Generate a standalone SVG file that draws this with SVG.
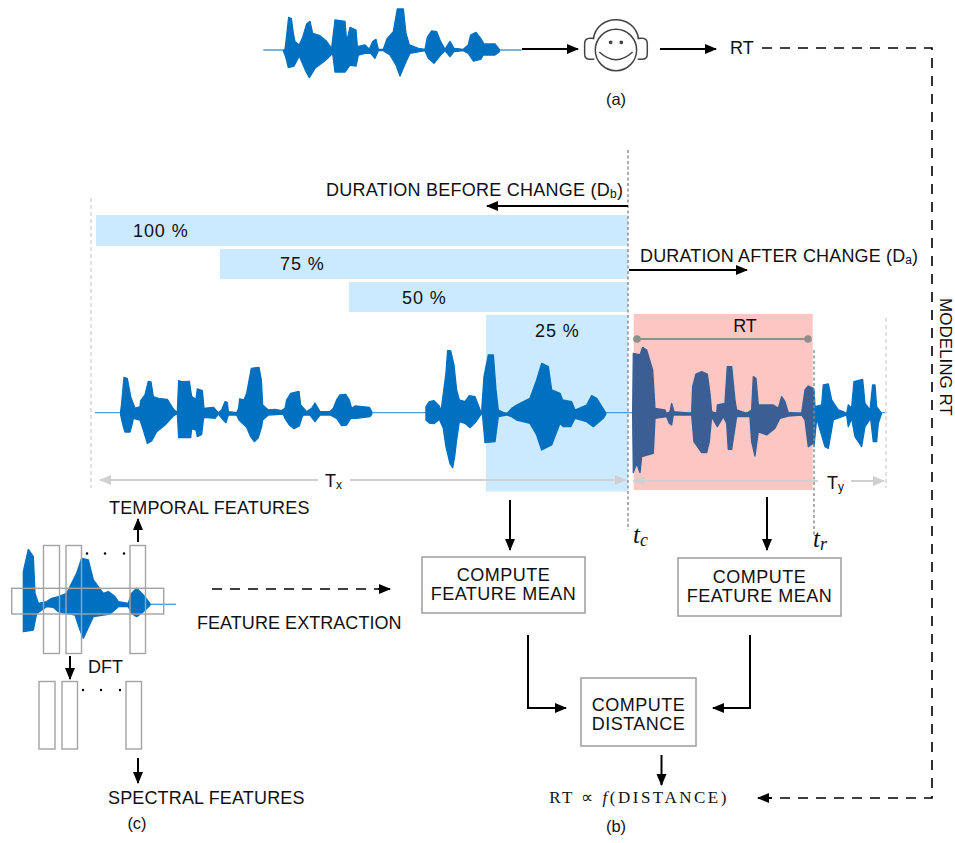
<svg xmlns="http://www.w3.org/2000/svg" width="955" height="843" viewBox="0 0 955 843">
<style>
text{font-family:"Liberation Sans",Arial,sans-serif;font-size:18px;fill:#111}
.m{text-anchor:middle}
.s{font-size:16.500px}
.c{letter-spacing:.5px}
.p{letter-spacing:.9px}
.math{font-family:"Liberation Serif","Times New Roman",serif}
.bar{fill:#cceaff}
.wave{fill:#0070c0;stroke:#0070c0;stroke-width:4;stroke-linejoin:round}
.dark{fill:#3b5f94;stroke:#3b5f94;stroke-width:4;stroke-linejoin:round}
.thin{fill:none;stroke:#4f9bd6;stroke-width:1.200}
.box{fill:#fff;stroke:#a3a3a3;stroke-width:1.600}
.win{fill:none;stroke:#a3a3a3;stroke-width:1.400}
.a{fill:none;stroke:#000;stroke-width:2;marker-end:url(#ah)}
.d{fill:none;stroke:#000;stroke-width:1.600;stroke-dasharray:10 8}
.g{fill:none;stroke:#d0d0d0;stroke-width:2}
.vd{fill:none;stroke:#8a8a8a;stroke-width:1.400;stroke-dasharray:3 2.500}
.vl{fill:none;stroke:#d4d4d4;stroke-width:1.400;stroke-dasharray:4 3}
</style>
<defs>
<marker id="ah" markerUnits="userSpaceOnUse" markerWidth="13" markerHeight="11" refX="11" refY="5" orient="auto"><path d="M0 0L12 5L0 10Z" fill="#000"/></marker>
<marker id="gh" markerUnits="userSpaceOnUse" markerWidth="13" markerHeight="11" refX="11" refY="5" orient="auto"><path d="M0 0L12 5L0 10Z" fill="#d0d0d0"/></marker>
</defs>

<g id="bars">
<rect class="bar" x="96" y="215" width="532" height="31"/>
<rect class="bar" x="220" y="249" width="408" height="30"/>
<rect class="bar" x="349" y="282" width="279" height="30"/>
<rect class="bar" x="486" y="315" width="142" height="176.500"/>
<rect x="633.700" y="314" width="179" height="176" fill="#fcc7c3"/>
<text class="p" x="133" y="237">100 %</text>
<text class="p" x="280" y="270">75 %</text>
<text class="p" x="402" y="304">50 %</text>
<text class="p" x="535" y="337">25 %</text>
</g>

<g id="top-wave" transform="translate(250,0) scale(.3333)">
<path class="thin" d="M40 150H815" style="stroke-width:4"/>
<path class="wave" d="M105 148L108 125L116 52L124 56L130 100L135 125L148 135L158 112L170 72L180 64L188 100L210 107L228 122L245 145L255 60L285 64L290 125L300 82L318 90L322 140L345 135L358 148L368 125L378 118L385 148L400 148L412 115L430 95L442 27L460 27L468 100L478 135L505 145L525 148L532 112L545 93L560 95L572 125L585 148L600 124L612 145L640 148L655 135L662 105L678 97L692 115L702 132L735 132L748 148L748 155L735 165L700 165L692 178L670 183L655 160L640 152L612 155L600 170L585 152L572 165L552 190L535 175L525 152L480 160L468 185L450 228L438 195L420 165L400 152L385 152L375 175L362 160L345 160L325 165L318 198L300 195L285 216L255 216L248 160L225 182L195 205L178 233L165 208L148 168L132 198L115 203L107 170L100 152Z"/>
</g>

<g id="listener" transform="translate(250,0) scale(.3333)" fill="none" stroke="#444" stroke-width="4.500">
<circle cx="1098" cy="150" r="62"/>
<path d="M1030 118C1040 40 1156 40 1166 118"/>
<path d="M1033 115H1020Q1004 115 1004 131V162Q1004 178 1020 178H1033"/>
<path d="M1163 115H1176Q1192 115 1192 131V162Q1192 178 1176 178H1163"/>
<path d="M1048 156Q1098 202 1148 156"/>
<circle cx="1082" cy="127" r="3.500" fill="#444"/>
<circle cx="1114" cy="127" r="3.500" fill="#444"/>
</g>

<g id="main-wave">
<path class="thin" d="M95 412.700H886"/>
<g transform="translate(90,340) scale(.3333)">
<path class="wave" d="M92 215L95 190L102 112L112 116L122 170L135 205L150 200L152 182L165 165L175 124L183 126L190 170L205 175L232 178L250 207L262 218L266 122L275 125L298 124L305 170L318 178L322 147L337 152L342 205L370 202L385 218L395 210L405 185L412 187L415 215L440 218L446 205L449 177L462 180L470 160L484 85L507 82L514 120L518 195L535 210L555 208L575 212L585 205L590 180L602 160L627 154L632 195L650 215L665 205L675 189L690 215L720 215L730 205L740 180L750 165L767 163L778 180L785 205L795 198L838 202L845 215L845 224L840 230L800 235L782 235L770 255L755 257L740 235L720 225L690 225L675 245L660 225L640 225L635 235L628 258L612 266L598 255L585 235L580 222L535 225L518 240L515 260L505 293L493 305L482 290L470 262L447 240L440 225L415 225L408 248L400 240L385 222L375 235L342 232L340 240L335 283L322 290L318 270L305 266L302 293L266 293L262 220L250 228L225 255L200 275L185 303L172 310L160 270L150 240L130 235L127 250L120 276L105 276L100 260L92 225Z"/>
<path class="wave" d="M1008 215L1008 200L1018 185L1032 182L1048 198L1053 215L1068 100L1073 32L1082 32L1092 75L1100 150L1108 180L1125 185L1138 167L1155 170L1165 195L1172 215L1175 220L1172 225L1158 245L1140 263L1125 250L1108 245L1100 300L1094 350L1088 383L1080 370L1068 320L1060 265L1048 238L1032 251L1018 249L1008 240Z"/>
</g>
<g transform="translate(480,310) scale(.3333)">
<path class="wave" d="M5 305L12 200L25 135L40 135L48 240L55 300L80 312L95 295L110 285L150 265L170 210L185 160L205 170L215 240L240 250L248 270L275 275L285 300L320 285L335 257L350 265L375 305L378 312L370 325L340 350L320 335L285 325L272 350L250 350L240 340L215 405L185 420L170 375L150 340L110 330L95 320L80 315L55 320L45 395L15 398L8 320Z"/>
<path class="dark" d="M458 310L460 130L480 135L488 112L500 120L518 180L525 295L555 300L560 312L570 305L575 280L582 305L635 310L638 230L648 192L665 185L682 192L690 250L695 305L710 310L712 285L735 280L742 170L755 170L765 270L770 300L800 310L815 300L820 200L828 205L835 285L880 285L895 295L905 260L915 275L925 308L965 310L975 240L985 228L1000 235L1000 400L985 410L975 330L965 315L925 318L900 325L885 355L860 375L835 365L825 438L815 395L810 320L770 320L755 418L745 418L740 340L730 320L712 350L695 320L688 395L680 428L665 428L642 395L635 315L580 315L575 345L568 340L560 320L525 325L520 430L485 440L480 488L470 460L460 488L458 315Z"/>
<path class="wave" d="M1002 240L1005 290L1025 285L1030 225L1045 222L1055 270L1075 300L1090 305L1100 312L1105 285L1115 295L1122 215L1148 208L1155 280L1170 300L1178 225L1185 225L1190 290L1205 310L1195 340L1190 395L1180 395L1172 325L1155 350L1145 410L1125 380L1115 325L1105 350L1100 315L1060 330L1045 415L1035 410L1010 325L1002 410Z"/>
</g>
</g>

<g id="guides">
<path class="vd" d="M628 150V530"/>
<path class="vd" d="M814 350V535"/>
<path class="vl" d="M91 198V488"/>
<path class="vl" d="M886 318V488"/>
</g>

<g id="rt-span">
<path d="M637 339H808" fill="none" stroke="#8f8f8f" stroke-width="2"/>
<circle cx="637" cy="339" r="3.800" fill="#8f8f8f"/>
<circle cx="808" cy="339" r="3.800" fill="#8f8f8f"/>
<text class="m" x="745" y="332">RT</text>
</g>

<g id="connectors">
<path class="a" d="M522 49H578"/>
<path class="a" d="M660 49H716"/>
<path class="d" d="M762 48H932V798H770"/>
<path class="a" d="M772 798H758"/>
<path class="a" d="M628 206H487"/>
<path class="a" d="M629 270H747"/>
<path class="g" d="M318 480H100" marker-end="url(#gh)"/>
<path class="g" d="M350 480H626" marker-end="url(#gh)"/>
<path class="g" d="M818 481H633" marker-end="url(#gh)"/>
<path class="g" d="M851 481H884" marker-end="url(#gh)"/>
<path class="a" d="M510 500V550"/>
<path class="a" d="M767 497V550"/>
<path class="a" d="M528 635V708H566"/>
<path class="a" d="M750 635V708H713"/>
<path class="a" d="M661.500 755V785"/>
<path class="a" d="M138 542V519"/>
<path class="a" d="M70 656V679"/>
<path class="a" d="M138 758V783"/>
<path class="d" d="M212 589H378"/>
<path class="a" d="M378 589H390"/>
</g>

<g id="feature-extraction">
<g transform="translate(0,490) scale(.3333)">
<path class="thin" d="M450 343H528" style="stroke-width:4"/>
<path class="wave" d="M70 245L85 178L100 200L105 310L115 340L140 335L155 325L175 320L200 310L230 250L245 205L265 210L280 270L310 310L325 305L345 320L355 335L385 340L395 310L410 295L430 315L450 340L450 346L430 365L410 380L395 370L385 350L355 350L330 372L280 380L250 445L240 420L225 375L175 365L160 352L140 350L110 370L100 420L70 425Z"/>
</g>
<rect class="win" x="11.700" y="588.300" width="152" height="25.700"/>
<rect class="win" x="43.500" y="545.500" width="16" height="108"/>
<rect class="win" x="66" y="545.500" width="15.500" height="108"/>
<rect class="win" x="130" y="545.500" width="15.500" height="108"/>
<rect class="win" x="39" y="681.500" width="16" height="67.500"/>
<rect class="win" x="62" y="681.500" width="15.500" height="67.500"/>
<rect class="win" x="126" y="681.500" width="15.500" height="67.500"/>
<g fill="#000">
<circle cx="87" cy="553.500" r="1.200"/><circle cx="105" cy="553.500" r="1.200"/><circle cx="124" cy="553.500" r="1.200"/>
<circle cx="83" cy="690" r="1.200"/><circle cx="101" cy="690" r="1.200"/><circle cx="120" cy="690" r="1.200"/>
</g>
</g>

<g id="node-mean-1"><rect class="box" x="422" y="557" width="163" height="56"/><text class="m c" x="503.500" y="581">COMPUTE</text><text class="m c" x="503.500" y="600">FEATURE MEAN</text></g>
<g id="node-mean-2"><rect class="box" x="678" y="558" width="163" height="58"/><text class="m c" x="759.500" y="583">COMPUTE</text><text class="m c" x="759.500" y="602">FEATURE MEAN</text></g>
<g id="node-distance"><rect class="box" x="581" y="678" width="115" height="68"/><text class="m c" x="638.500" y="711">COMPUTE</text><text class="m c" x="638.500" y="730">DISTANCE</text></g>

<g id="labels">
<text x="730" y="54">RT</text>
<text class="m s" x="616" y="105">(a)</text>
<text x="326" y="196" letter-spacing=".25">DURATION BEFORE CHANGE (D<tspan font-size="12" dy="2">b</tspan><tspan dy="-2">)</tspan></text>
<text x="640" y="262" letter-spacing=".15">DURATION AFTER CHANGE (D<tspan font-size="12" dy="2">a</tspan><tspan dy="-2">)</tspan></text>
<text x="325" y="487">T<tspan font-size="12" dy="2">x</tspan></text>
<text x="827" y="489">T<tspan font-size="12" dy="2">y</tspan></text>
<text x="109" y="514" letter-spacing=".15">TEMPORAL FEATURES</text>
<text x="197" y="629" letter-spacing=".05">FEATURE EXTRACTION</text>
<text x="88" y="673">DFT</text>
<text x="108" y="804" letter-spacing=".15">SPECTRAL FEATURES</text>
<text class="m s" x="137" y="829">(c)</text>
<text class="m s" x="616" y="832">(b)</text>
<text transform="translate(940,298) rotate(90)" style="font-size:17px">MODELING RT</text>
<text class="math" x="633" y="543" style="font-size:25px;font-style:italic">t<tspan style="font-size:18px" dy="3">c</tspan></text>
<text class="math" x="813" y="547" style="font-size:25px;font-style:italic">t<tspan style="font-size:18px" dy="3">r</tspan></text>
<text class="math m" x="639" y="803" style="font-size:17px;letter-spacing:2.500px">RT ∝ <tspan font-style="italic">f</tspan>(DISTANCE)</text>
</g>
</svg>
